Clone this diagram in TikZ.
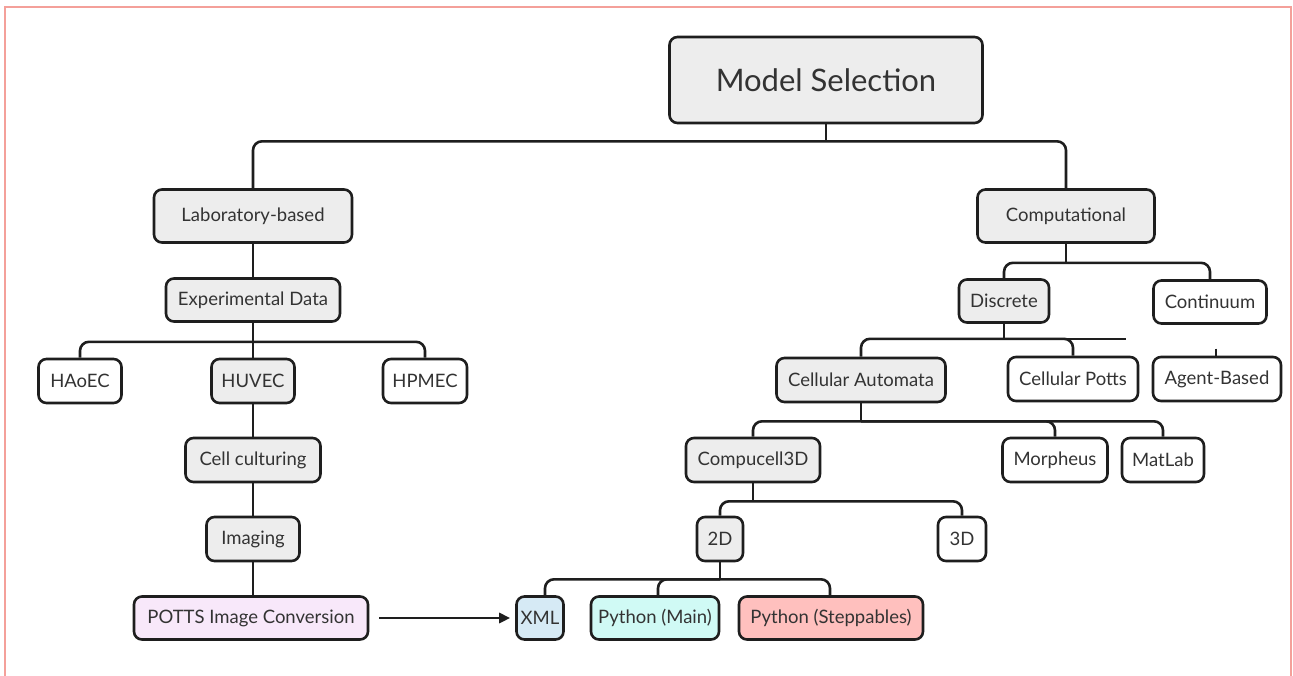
\documentclass[tikz,border=0pt]{standalone}
\usepackage{fontspec}
\setmainfont{Lato}
\usetikzlibrary{calc,arrows.meta}
\definecolor{boxgray}{HTML}{EDEDED}
\definecolor{txt}{HTML}{333333}
\definecolor{edge}{HTML}{1E1E1E}
\definecolor{framec}{HTML}{F4A09A}
\definecolor{pottsc}{HTML}{F8E8FA}
\definecolor{xmlc}{HTML}{D6EAF5}
\definecolor{pymainc}{HTML}{D0FAF5}
\definecolor{pystepc}{HTML}{FFC0BE}
\tikzset{
  box/.style={draw=edge, line width=2.6pt, rounded corners=8pt, inner sep=0pt,
    text=txt, font=\fontsize{18.5}{22}\selectfont, align=center},
  graybox/.style={box, fill=boxgray},
  whitebox/.style={box, fill=white},
  conn/.style={draw=edge, line width=2.6pt, rounded corners=9pt},
}
\newcommand{\bx}[5]{\node[#1, minimum width=#2, minimum height=#3] #4 {#5};}
\begin{document}
\begin{tikzpicture}[x=1pt,y=-1pt]
\useasboundingbox (0,0) rectangle (1293,675);
\fill[white] (0,0) rectangle (1293,675);
\draw[framec, line width=2.6pt] (5,676) -- (5,7) -- (1291,7) -- (1291,676);

% nodes
\node[graybox, minimum width=313, minimum height=86, font=\fontsize{31}{36}\selectfont] (ms) at (826,80) {Model Selection};
\bx{graybox}{198}{53}{(lab) at (253,216)}{Laboratory-based}
\bx{graybox}{177}{53}{(comp) at (1066,216)}{Computational}
\bx{graybox}{174}{43}{(exp) at (253,300)}{Experimental Data}
\bx{graybox}{90}{43}{(disc) at (1004,301)}{Discrete}
\bx{whitebox}{113}{43}{(cont) at (1210,302)}{Continuum}
\bx{whitebox}{83}{44}{(haoec) at (80,381)}{HAoEC}
\bx{graybox}{83}{44}{(huvec) at (253,381)}{HUVEC}
\bx{whitebox}{84}{44}{(hpmec) at (425,381)}{HPMEC}
\bx{graybox}{169}{44}{(ca) at (861,380)}{Cellular Automata}
\bx{whitebox}{130}{44}{(cp) at (1073,379)}{Cellular Potts}
\bx{whitebox}{128}{44}{(ab) at (1217,379)}{Agent-Based}
\bx{graybox}{135}{44}{(cc) at (253,460)}{Cell culturing}
\bx{graybox}{134}{44}{(c3d) at (753,460)}{Compucell3D}
\bx{whitebox}{105}{44}{(morph) at (1055,460)}{Morpheus}
\bx{whitebox}{82}{44}{(mat) at (1163,460)}{MatLab}
\bx{graybox}{93}{44}{(img) at (253,539)}{Imaging}
\bx{graybox}{46}{44}{(d2) at (720,539)}{2D}
\bx{whitebox}{48}{44}{(d3) at (962,539)}{3D}
\node[box, fill=pottsc, minimum width=234, minimum height=43] (potts) at (251,618) {POTTS Image Conversion};
\node[box, fill=xmlc, minimum width=47, minimum height=43] (xml) at (540,618) {XML};
\node[box, fill=pymainc, minimum width=128, minimum height=43] (pym) at (655,618) {Python (Main)};
\node[box, fill=pystepc, minimum width=184, minimum height=43] (pys) at (831,618) {Python (Steppables)};

% connectors
\draw[conn] (ms.south) -- ++(0,17);
\draw[conn] (lab.north) |- ($(ms.south)+(0,17)$) -| (comp.north);
\draw[conn] (lab.south) -- (exp.north);
\draw[conn] (exp.south) -- (huvec.north);
\draw[conn] (haoec.north) |- ($(exp.south)+(0,19)$) -| (hpmec.north);
\draw[conn] (huvec.south) -- (cc.north);
\draw[conn] (cc.south) -- (img.north);
\draw[conn] (img.south) -- (img.south |- potts.north);

\draw[conn] (comp.south) -- ++(0,19);
\draw[conn] (disc.north) |- ($(comp.south)+(0,19)$) -| (cont.north);
\draw[conn] (disc.south) -- ++(0,15);
\draw[conn] (ca.north) |- ($(disc.south)+(0,15)$) -| (cp.north);
\coordinate (busend) at ($(disc.south)+(122,15)$);
\draw[conn] ($(disc.south)+(60,15)$) -- (busend);
\coordinate (abstub) at ($(ab.north)+(-1,-7)$);
\draw[draw=edge, line width=2.2pt] (abstub) -- (ab.north -| abstub);

\draw[conn] (ca.south) -- ++(0,18);
\draw[conn] (c3d.north) |- ($(ca.south)+(0,18)$) -| (mat.north);
\draw[conn] (morph.north) |- ($(ca.south)+(0,18)$);
\draw[conn] (c3d.south) -- ++(0,18);
\draw[conn] (d2.north) |- ($(c3d.south)+(0,18)$) -| (d3.north);
\draw[conn] (d2.south) -- ++(0,17);
\draw[conn] ($(xml.north)+(5,0)$) |- ($(d2.south)+(0,17)$) -| ($(pys.north)+(-1,0)$);
\draw[conn] ($(pym.north)+(3,0)$) |- ($(d2.south)+(0,17)$);

\draw[draw=edge, line width=2.8pt, -{Triangle[length=11pt,width=10pt]}, shorten <=10pt, shorten >=5pt] (potts.east) -- (xml.west);
\end{tikzpicture}
\end{document}
